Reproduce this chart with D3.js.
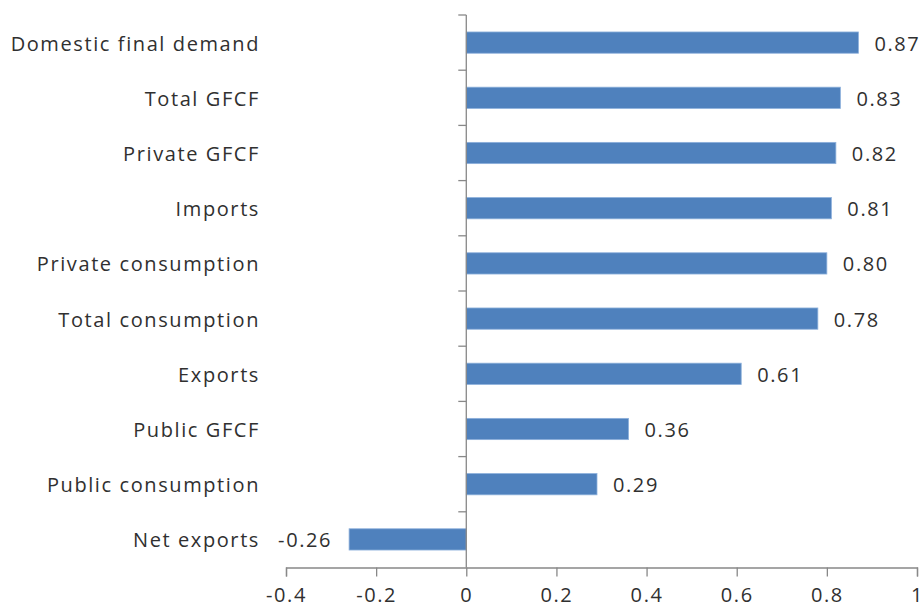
<!DOCTYPE html>
<html>
<head>
<meta charset="utf-8">
<script src="https://cdn.jsdelivr.net/npm/d3@7"></script>
<style>
  html, body { margin: 0; padding: 0; background: #fff; }
  svg { display: block; }
  text { font-family: "Open Sans", sans-serif; fill: #303030; }
</style>
</head>
<body>
<svg id="chart" width="924" height="611"></svg>
<script>
const categories = ["Domestic final demand", "Total GFCF", "Private GFCF", "Imports",
  "Private consumption", "Total consumption", "Exports", "Public GFCF",
  "Public consumption", "Net exports"];
const values = [0.87, 0.83, 0.82, 0.81, 0.80, 0.78, 0.61, 0.36, 0.29, -0.26];
const xTicks = [-0.4, -0.2, 0, 0.2, 0.4, 0.6, 0.8, 1];
const xTickLabels = ["-0.4", "-0.2", "0", "0.2", "0.4", "0.6", "0.8", "1"];

const svg = d3.select("#chart");
const FONT = 20, LS = 1.6;

const x = d3.scaleLinear().domain([-0.4, 1]).range([286, 917]);
const y = d3.scaleBand().domain(categories).range([15, 567]).paddingInner(0.615).paddingOuter(0.3075);
const band = d3.scaleBand().domain(categories).range([15, 567]);

// bars
svg.append("g").selectAll("rect").data(values).join("rect")
  .attr("x", d => x(Math.min(0, d)))
  .attr("width", d => Math.abs(x(d) - x(0)))
  .attr("y", (d, i) => y(categories[i]))
  .attr("height", y.bandwidth())
  .attr("fill", "#4f81bd")
  .attr("stroke", "#8db0db")
  .attr("stroke-width", 0.8);

// value labels
svg.append("g").selectAll("text").data(values).join("text")
  .attr("x", d => d >= 0 ? x(d) + 16 : x(d) - 17)
  .attr("y", (d, i) => y(categories[i]) + y.bandwidth() / 2)
  .attr("dy", "0.4em")
  .attr("text-anchor", d => d >= 0 ? "start" : "end")
  .style("font-size", FONT + "px")
  .style("letter-spacing", LS + "px")
  .text(d => d.toFixed(2));

// category labels
svg.append("g").selectAll("text").data(categories).join("text")
  .attr("x", 260)
  .attr("y", d => band(d) + band.bandwidth() / 2)
  .attr("dy", "0.4em")
  .attr("text-anchor", "end")
  .style("font-size", FONT + "px")
  .style("letter-spacing", LS + "px")
  .text(d => d);

// x axis
const xAxis = svg.append("g").attr("transform", "translate(0,567.5)")
  .call(d3.axisBottom(x).tickValues(xTicks).tickSize(9).tickPadding(11)
    .tickFormat((d, i) => xTickLabels[i]));
xAxis.select(".domain").attr("stroke", "#888").attr("stroke-width", 1.3);
xAxis.selectAll(".tick line").attr("stroke", "#888").attr("stroke-width", 1.3);
xAxis.selectAll(".tick text").style("font-size", FONT + "px")
  .style("letter-spacing", LS + "px").attr("fill", "#303030");

// y axis at zero with category boundary ticks
const yAxisG = svg.append("g");
yAxisG.append("line")
  .attr("x1", x(0)).attr("x2", x(0)).attr("y1", 15).attr("y2", 567.5)
  .attr("stroke", "#888").attr("stroke-width", 1.3);
const boundaries = categories.map(c => band(c));
yAxisG.selectAll("line.tk").data(boundaries).join("line").attr("class", "tk")
  .attr("x1", x(0) - 8).attr("x2", x(0))
  .attr("y1", d => d).attr("y2", d => d)
  .attr("stroke", "#888").attr("stroke-width", 1.3);
</script>
</body>
</html>
